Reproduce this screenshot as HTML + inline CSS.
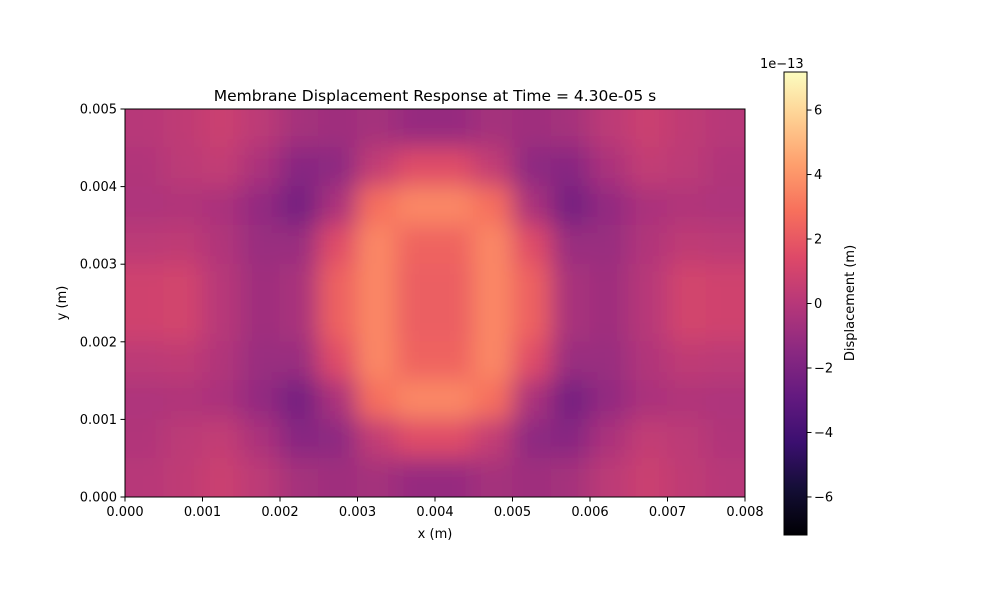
<!DOCTYPE html>
<html><head><meta charset="utf-8"><style>
body{margin:0;background:#fff;font-family:"Liberation Sans","DejaVu Sans",sans-serif}
svg text{font-family:"DejaVu Sans","Liberation Sans",sans-serif;fill:#000}
</style></head><body>
<svg id="chart" width="1000" height="600" xmlns="http://www.w3.org/2000/svg">
<defs>
<clipPath id="clip"><rect x="125" y="109" width="620" height="388"/></clipPath>
<filter id="blur" filterUnits="userSpaceOnUse" x="0" y="0" width="1000" height="600"><feGaussianBlur stdDeviation="12"/></filter>
<linearGradient id="cbgrad" x1="0" y1="1" x2="0" y2="0"></linearGradient>
</defs>
<text x="435" y="101" font-size="15.5" text-anchor="middle">Membrane Displacement Response at Time = 4.30e-05 s</text>
<g clip-path="url(#clip)"><g id="cells" filter="url(#blur)"></g></g>
<rect x="125" y="109" width="620" height="388" fill="none" stroke="#000" stroke-width="1"/>
<g id="xaxis"></g><g id="yaxis"></g>
<text x="435" y="538" font-size="13" text-anchor="middle">x (m)</text>
<text transform="translate(66,303) rotate(-90)" font-size="13" text-anchor="middle">y (m)</text>
<rect x="784" y="72" width="23" height="463" fill="url(#cbgrad)" stroke="#000" stroke-width="1"/>
<g id="cbaxis"></g>
<text x="760" y="68" font-size="13">1e−13</text>
<text transform="translate(854,303) rotate(-90)" font-size="13" text-anchor="middle">Displacement (m)</text>
</svg>
<script>
// grid cell centers (m)
const xCenters=[0.00025,0.00075,0.00125,0.00175,0.00225,0.00275,0.00325,0.00375,0.00425,0.00475,0.00525,0.00575,0.00625,0.00675,0.00725,0.00775];
const yCenters=[0.00475,0.00425,0.00375,0.00325,0.00275,0.00225,0.00175,0.00125,0.00075,0.00025];
// displacement values (x1e-13 m), rows top to bottom
const values=[
[0,0.3,0.7,0.2,-0.6,-0.8,-0.6,-1.1,-1.1,-0.6,-0.8,-0.6,0.2,0.7,0.3,0],
[-0.2,0.2,0.4,-0.4,-1.6,-1.4,0.4,1.5,1.5,0.4,-1.4,-1.6,-0.4,0.4,0.2,-0.2],
[-0.3,-0.2,-0.4,-1.2,-2.3,-0.4,2.8,3.6,3.6,2.8,-0.4,-2.3,-1.2,-0.4,-0.2,-0.3],
[0.2,0.3,-0.2,-1,-1,1.5,3.6,2.4,2.4,3.6,1.5,-1,-1,-0.2,0.3,0.2],
[0.9,1,0,-0.8,-0.5,2.3,3.6,2.2,2.2,3.6,2.3,-0.5,-0.8,0,1,0.9],
[0.9,1,0,-0.8,-0.5,2.3,3.6,2.2,2.2,3.6,2.3,-0.5,-0.8,0,1,0.9],
[0.2,0.3,-0.2,-1,-1,1.5,3.6,2.4,2.4,3.6,1.5,-1,-1,-0.2,0.3,0.2],
[-0.3,-0.2,-0.4,-1.2,-2.3,-0.4,2.8,3.6,3.6,2.8,-0.4,-2.3,-1.2,-0.4,-0.2,-0.3],
[-0.2,0.2,0.4,-0.4,-1.6,-1.4,0.4,1.5,1.5,0.4,-1.4,-1.6,-0.4,0.4,0.2,-0.2],
[0,0.3,0.7,0.2,-0.6,-0.8,-0.6,-1.1,-1.1,-0.6,-0.8,-0.6,0.2,0.7,0.3,0]];
const xTicks=["0.000","0.001","0.002","0.003","0.004","0.005","0.006","0.007","0.008"];
const yTicks=["0.000","0.001","0.002","0.003","0.004","0.005"];
const cbTicks=[-6,-4,-2,0,2,4,6];
const vmin=-7.18,vmax=7.18;
const NS="http://www.w3.org/2000/svg";
const X=v=>125+v/0.008*620, Y=v=>497-v/0.005*388;
const CB=v=>535-(v-vmin)/(vmax-vmin)*463;
const stops=["#000004","#140e36","#3b0f70","#641a80","#8c2981","#b73779","#de4968","#f7705c","#fe9f6d","#fecf92","#fcfdbf"];
function hex(h){return [1,3,5].map(i=>parseInt(h.substr(i,2),16));}
function cmap(v){let t=Math.max(0,Math.min(1,(v-vmin)/(vmax-vmin)))*10;let i=Math.min(9,Math.floor(t)),f=t-i;
const a=hex(stops[i]),b=hex(stops[i+1]);return "rgb("+a.map((c,k)=>Math.round(c+(b[k]-c)*f)).join(",")+")";}
function el(tag,attrs,parent){const e=document.createElementNS(NS,tag);for(const k in attrs)e.setAttribute(k,attrs[k]);parent.appendChild(e);return e;}
const cells=document.getElementById('cells');
const dx=0.0005,dy=0.0005,pad=50;
const nR=values.length,nC=values[0].length;
values.forEach((row,j)=>row.forEach((v,i)=>{
 let x0=X(xCenters[i]-dx/2),x1=X(xCenters[i]+dx/2),y0=Y(yCenters[j]+dy/2),y1=Y(yCenters[j]-dy/2);
 if(i===0)x0-=pad; if(i===nC-1)x1+=pad; if(j===0)y0-=pad; if(j===nR-1)y1+=pad;
 const r=el('rect',{x:x0-0.5,y:y0-0.5,width:x1-x0+1,height:y1-y0+1,fill:cmap(v)},cells);
 
 
}));
const xa=document.getElementById('xaxis');
xTicks.forEach(t=>{const x=X(parseFloat(t));
 el('line',{x1:x,x2:x,y1:497,y2:501.5,stroke:'#000'},xa);
 const tx=el('text',{x:x,y:516,'font-size':13,'text-anchor':'middle'},xa);tx.textContent=t;
 
 });
const ya=document.getElementById('yaxis');
yTicks.forEach(t=>{const y=Y(parseFloat(t));
 el('line',{x1:120.5,x2:125,y1:y,y2:y,stroke:'#000'},ya);
 const tx=el('text',{x:117,y:y+4.5,'font-size':13,'text-anchor':'end'},ya);tx.textContent=t;
 
 });
const g=document.getElementById('cbgrad');
stops.forEach((c,i)=>el('stop',{offset:(i*10)+'%','stop-color':c},g));
const ca=document.getElementById('cbaxis');
cbTicks.forEach(t=>{const y=CB(t);
 el('line',{x1:807,x2:811.5,y1:y,y2:y,stroke:'#000'},ca);
 const tx=el('text',{x:814,y:y+4.5,'font-size':13},ca);tx.textContent=(t<0?'−':'')+Math.abs(t);
 
 });
</script>
</body></html>
